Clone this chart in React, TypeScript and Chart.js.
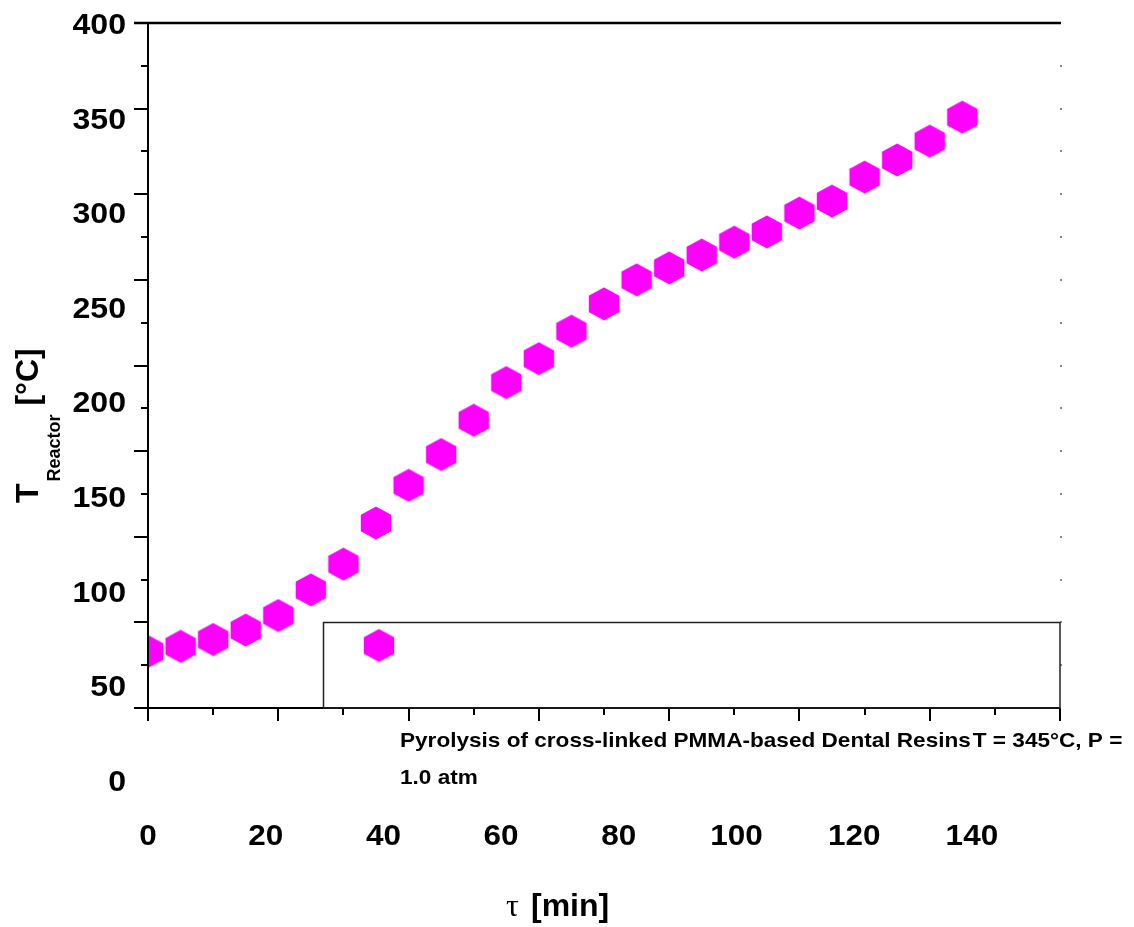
import React, { useEffect, useRef } from 'react';
import { Chart, registerables } from 'chart.js';

Chart.register(...registerables);

// ---- data ----
const timeMin = [0, 5, 10, 15, 20, 25, 30, 35, 40, 45, 50, 55, 60, 65, 70, 75, 80, 85, 90, 95, 100, 105, 110, 115, 120, 125];
const tempReactor = [33, 36, 40, 45.5, 54, 69, 84, 108, 130, 148, 168, 190, 204, 220, 236, 250, 257, 264.5, 272, 278, 289, 296, 310, 320, 331, 345];

const xTickLabels = ['0', '20', '40', '60', '80', '100', '120', '140'];
const yTickLabels = ['400', '350', '300', '250', '200', '150', '100', '50', '0'];
const xMajorTicks = [0, 20, 40, 60, 80, 100, 120, 140];
const yMajorTicks = [0, 50, 100, 150, 200, 250, 300, 350, 400];

const seriesName = 'Pyrolysis of cross-linked PMMA-based Dental Resins';
const seriesCond1 = 'T = 345°C, P =';
const seriesCond2 = '1.0 atm';
const xTitleSymbol = 'τ';
const xTitleText = '[min]';
const yTitleMain = 'T';
const yTitleSub = 'Reactor';
const yTitleUnit = ' [°C]';

const SANS = '"Liberation Sans", Arial, Helvetica, sans-serif';
const SERIF = '"Liberation Serif", "Times New Roman", serif';
const MAGENTA = '#FF00FF';

function makeHex(): HTMLCanvasElement {
  const c = document.createElement('canvas');
  c.width = 34;
  c.height = 34;
  const g = c.getContext('2d')!;
  const cx = 17, cy = 17, hw = 15.2, h = 16.6;
  g.fillStyle = MAGENTA;
  g.beginPath();
  g.moveTo(cx, cy - h);
  g.lineTo(cx + hw, cy - h / 2);
  g.lineTo(cx + hw, cy + h / 2);
  g.lineTo(cx, cy + h);
  g.lineTo(cx - hw, cy + h / 2);
  g.lineTo(cx - hw, cy - h / 2);
  g.closePath();
  g.fill();
  return c;
}

// draw text horizontally stretched by sx, anchored at x with given alignment
function stretchText(ctx: CanvasRenderingContext2D, text: string, x: number, y: number, sx: number, align: 'left' | 'center' | 'right') {
  ctx.save();
  ctx.translate(x, y);
  ctx.scale(sx, 1);
  ctx.textAlign = align;
  ctx.fillText(text, 0, 0);
  const w = ctx.measureText(text).width * sx;
  ctx.restore();
  return w;
}

function makePlugin(hex: HTMLCanvasElement) {
  return {
    id: 'customAxes',
    afterDatasetsDraw(chart: any) {
      const { ctx, chartArea: a, scales } = chart;
      const xs = scales.x;
      const ys = scales.y;
      ctx.save();
      ctx.strokeStyle = '#000';
      ctx.fillStyle = '#000';
      ctx.lineCap = 'butt';

      // top border
      ctx.lineWidth = 2.5;
      ctx.beginPath();
      ctx.moveTo(a.left - 14, ys.getPixelForValue(400));
      ctx.lineTo(a.right + 1, ys.getPixelForValue(400));
      ctx.stroke();

      // left axis
      ctx.lineWidth = 2;
      ctx.beginPath();
      ctx.moveTo(a.left, a.top);
      ctx.lineTo(a.left, a.bottom + 13);
      ctx.stroke();

      // bottom axis
      ctx.beginPath();
      ctx.moveTo(a.left - 14, a.bottom);
      ctx.lineTo(a.right, a.bottom);
      ctx.stroke();

      // y ticks
      yMajorTicks.forEach((v) => {
        const py = Math.round(ys.getPixelForValue(v));
        ctx.beginPath();
        ctx.moveTo(a.left - 14, py);
        ctx.lineTo(a.left, py);
        ctx.stroke();
      });
      for (let i = 0; i < yMajorTicks.length - 1; i++) {
        const v = (yMajorTicks[i] + yMajorTicks[i + 1]) / 2;
        const py = Math.round(ys.getPixelForValue(v));
        ctx.beginPath();
        ctx.moveTo(a.left - 7, py);
        ctx.lineTo(a.left, py);
        ctx.stroke();
      }

      // x ticks
      xMajorTicks.forEach((v) => {
        const px = Math.round(xs.getPixelForValue(v));
        ctx.beginPath();
        ctx.moveTo(px, a.bottom);
        ctx.lineTo(px, a.bottom + 13);
        ctx.stroke();
      });
      for (let i = 0; i < xMajorTicks.length - 1; i++) {
        const v = (xMajorTicks[i] + xMajorTicks[i + 1]) / 2;
        const px = Math.round(xs.getPixelForValue(v));
        ctx.beginPath();
        ctx.moveTo(px, a.bottom);
        ctx.lineTo(px, a.bottom + 7);
        ctx.stroke();
      }

      // right dotted ticks
      ctx.fillStyle = '#8a8a8a';
      for (let v = 25; v < 400; v += 25) {
        const py = Math.round(ys.getPixelForValue(v));
        ctx.fillRect(a.right, py - 1, 2, 2);
      }

      // legend box
      ctx.strokeStyle = '#222';
      ctx.lineWidth = 1.5;
      ctx.strokeRect(323.5, 622.5, a.right - 323.5, a.bottom - 622.5);
      ctx.drawImage(hex, 379 - hex.width / 2, 645.5 - hex.height / 2);

      // legend text
      ctx.fillStyle = '#000';
      ctx.font = `bold 21px ${SANS}`;
      ctx.textBaseline = 'alphabetic';
      const w1 = stretchText(ctx, seriesName, 400, 747, 1.075, 'left');
      stretchText(ctx, seriesCond1, 400 + w1 + 2, 747, 1.075, 'left');
      stretchText(ctx, seriesCond2, 400, 784, 1.075, 'left');

      // y tick labels (spread layout)
      ctx.font = `bold 30px ${SANS}`;
      const yTop = ys.getPixelForValue(400);
      const ySpacing = 94.6;
      yTickLabels.forEach((lab, i) => {
        stretchText(ctx, lab, 126, yTop + i * ySpacing + 11, 1.07, 'right');
      });

      // x tick labels (spread layout)
      const x0 = xs.getPixelForValue(0);
      const xSpacing = 117.7;
      xTickLabels.forEach((lab, i) => {
        stretchText(ctx, lab, x0 + i * xSpacing, 845, 1.05, 'center');
      });

      // x title
      ctx.textAlign = 'left';
      ctx.font = `32px ${SERIF}`;
      ctx.fillText(xTitleSymbol, 506, 916);
      ctx.font = `bold 32px ${SANS}`;
      ctx.fillText(xTitleText, 531, 916);

      // y title (rotated)
      ctx.save();
      ctx.translate(38, 503);
      ctx.rotate(-Math.PI / 2);
      ctx.textAlign = 'left';
      ctx.font = `bold 32px ${SANS}`;
      ctx.fillText(yTitleMain, 0, 0);
      const wT = ctx.measureText(yTitleMain).width;
      ctx.font = `bold 18px ${SANS}`;
      ctx.fillText(yTitleSub, wT + 2, 22);
      const wS = ctx.measureText(yTitleSub).width;
      ctx.font = `bold 32px ${SANS}`;
      ctx.fillText(yTitleUnit, wT + 2 + wS, 0);
      ctx.restore();

      ctx.restore();
    },
  };
}

export default function App() {
  const ref = useRef<HTMLCanvasElement | null>(null);
  useEffect(() => {
    if (!ref.current) return;
    const hex = makeHex();
    const points = timeMin.map((t, i) => ({ x: t, y: tempReactor[i] }));
    const chart = new Chart(ref.current, {
      type: 'scatter',
      data: {
        datasets: [
          {
            label: seriesName,
            data: points,
            pointStyle: hex as any,
            pointRadius: 16,
            pointBackgroundColor: MAGENTA,
            showLine: false,
            clip: 0,
          } as any,
        ],
      },
      options: {
        responsive: false,
        animation: false,
        events: [],
        layout: { padding: { left: 148, right: 74, top: 23, bottom: 219 } },
        plugins: { legend: { display: false }, title: { display: false }, tooltip: { enabled: false } },
        scales: {
          x: { type: 'linear', min: 0, max: 140, display: false },
          y: { type: 'linear', min: 0, max: 400, display: false },
        },
      },
      plugins: [makePlugin(hex)],
    });
    return () => chart.destroy();
  }, []);
  return (
    <div style={{ position: 'absolute', left: 0, top: 0, width: 1134, height: 927, background: '#fff' }}>
      <canvas ref={ref} width={1134} height={927} style={{ display: 'block' }} />
    </div>
  );
}
